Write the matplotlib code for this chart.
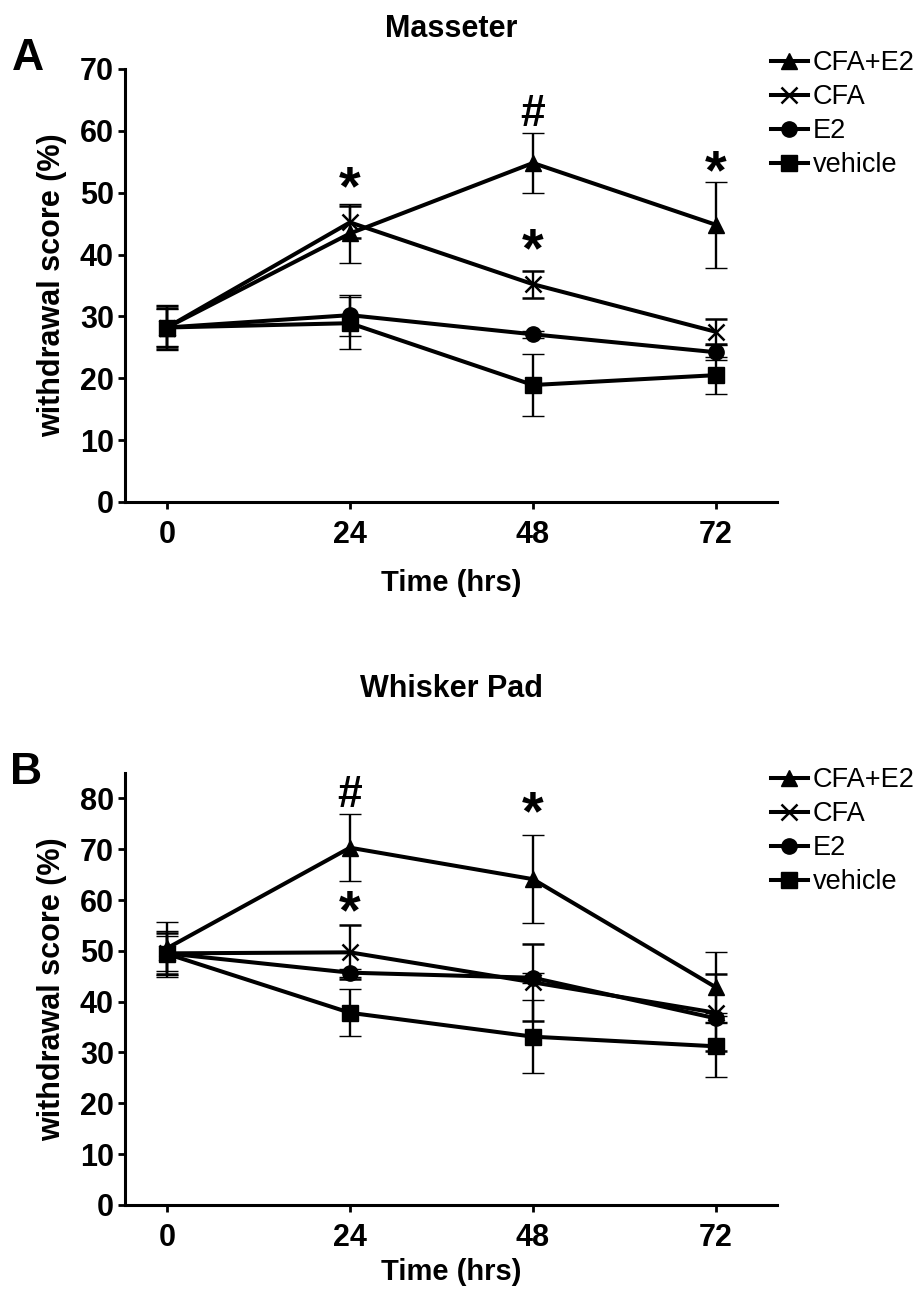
import matplotlib
matplotlib.use("Agg")
import matplotlib.pyplot as plt

plt.rcParams["font.family"] = ["Liberation Sans", "DejaVu Sans"]

# time points (hrs)
time = [0, 24, 48, 72]
groups = ["CFA+E2", "CFA", "E2", "vehicle"]
markers = ["^", "x", "o", "s"]

# Masseter - mean and sem
mas_cfa_e2 = [28.2, 43.4, 54.8, 44.8]
mas_cfa_e2_sem = [3.6, 4.8, 4.8, 7.0]
mas_cfa = [28.2, 45.2, 35.2, 27.5]
mas_cfa_sem = [3.2, 2.6, 2.2, 2.0]
mas_e2 = [28.2, 30.2, 27.1, 24.2]
mas_e2_sem = [3.0, 3.3, 0.6, 1.2]
mas_veh = [28.2, 28.9, 18.9, 20.5]
mas_veh_sem = [3.4, 4.2, 5.0, 3.0]

# Whisker pad - mean and sem
wp_cfa_e2 = [50.5, 70.3, 64.1, 42.8]
wp_cfa_e2_sem = [5.2, 6.6, 8.6, 6.9]
wp_cfa = [49.5, 49.7, 43.8, 37.8]
wp_cfa_sem = [4.0, 5.3, 7.6, 7.6]
wp_e2 = [49.5, 45.7, 44.7, 36.7]
wp_e2_sem = [3.5, 0.8, 1.0, 1.0]
wp_veh = [49.4, 37.8, 33.1, 31.2]
wp_veh_sem = [4.5, 4.6, 7.2, 6.0]

# significance marks: (x, y centre, symbol)
mas_marks = [(24, 51.5, "*"), (48, 63.4, "#"), (72, 54.2, "*"), (48, 41.5, "*")]
wp_marks = [(24, 81.5, "#"), (48, 78.0, "*"), (24, 58.6, "*")]

fig = plt.figure(figsize=(9.24, 12.89), dpi=100)


def draw_panel(ax, means, sems, marks, ylim, yticks, title, title_pad, xlabel_pad):
    handles = []
    for m, s, mk in zip(means, sems, markers):
        c = ax.errorbar(time, m, yerr=s, color="black", lw=2.9, marker=mk,
                        ms=11 if mk != "x" else 12, mew=1.8 if mk == "x" else 1,
                        ecolor="black", elinewidth=1.7, capsize=8, capthick=1.7)
        handles.append(c[0])
    for x, y, sym in marks:
        # shift so the glyph centre sits on y
        fs = 40 if sym == "*" else 32
        off = -0.38 * fs if sym == "*" else -0.36 * fs
        ax.annotate(sym, (x, y), xytext=(0, off), textcoords="offset points",
                    ha="center", va="baseline", fontsize=fs, fontweight="bold")
    ax.set_xlim(-5.5, 80)
    ax.set_ylim(*ylim)
    ax.set_xticks(time)
    ax.set_yticks(yticks)
    for sp in ["top", "right"]:
        ax.spines[sp].set_visible(False)
    for sp in ["left", "bottom"]:
        ax.spines[sp].set_linewidth(2.2)
    ax.tick_params(axis="both", width=2, length=5, labelsize=22)
    ax.tick_params(axis="x", pad=8)
    ax.tick_params(axis="y", pad=3)
    for lab in ax.get_xticklabels() + ax.get_yticklabels():
        lab.set_fontweight("bold")
    ax.set_ylabel("withdrawal score (%)", fontsize=22, fontweight="bold", labelpad=9)
    ax.set_xlabel("Time (hrs)", fontsize=21, fontweight="bold", labelpad=xlabel_pad)
    ax.set_title(title, fontsize=22, fontweight="bold", pad=title_pad)
    return handles


axA = fig.add_axes([0.1353, 0.6106, 0.7056, 0.3359])
hA = draw_panel(axA, [mas_cfa_e2, mas_cfa, mas_e2, mas_veh],
                [mas_cfa_e2_sem, mas_cfa_sem, mas_e2_sem, mas_veh_sem],
                mas_marks, (0, 70), range(0, 71, 10), "Masseter", 23, 14)

axB = fig.add_axes([0.1353, 0.0653, 0.7056, 0.335])
hB = draw_panel(axB, [wp_cfa_e2, wp_cfa, wp_e2, wp_veh],
                [wp_cfa_e2_sem, wp_cfa_sem, wp_e2_sem, wp_veh_sem],
                wp_marks, (0, 85), range(0, 81, 10), "Whisker Pad", 55, 4)

for ax, h, ytop in [(axA, hA, 50), (axB, hB, 767)]:
    ax.legend(h, groups, loc="upper left", bbox_to_anchor=(771 / 924, 1 - ytop / 1289),
              bbox_transform=fig.transFigure, frameon=False, fontsize=19.5,
              handlelength=1.35, handletextpad=0.2, labelspacing=0.3,
              borderpad=0, borderaxespad=0)

fig.text(28 / 924, 1 - 58 / 1289, "A", ha="center", va="center", fontsize=32, fontweight="bold")
fig.text(26 / 924, 1 - 772 / 1289, "B", ha="center", va="center", fontsize=32, fontweight="bold")

fig.savefig("out.png", dpi=100)
